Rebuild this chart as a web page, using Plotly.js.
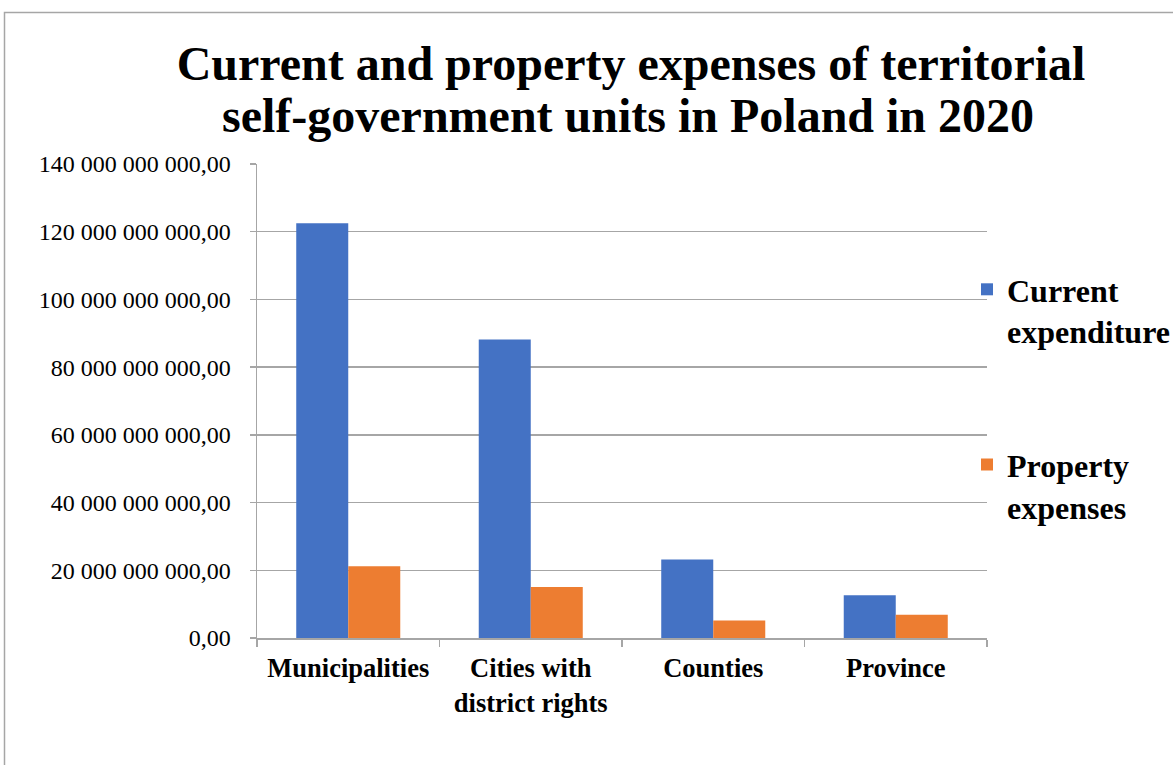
<!DOCTYPE html>
<html>
<head>
<meta charset="utf-8">
<script src="https://cdn.plot.ly/plotly-3.0.1.min.js"></script>
<style>html,body{margin:0;padding:0;background:#fff;}#chart{width:1173px;height:765px;}</style>
</head>
<body>
<div id="chart"></div>
<script>
const categories = ["Municipalities", "Cities with<br>district rights", "Counties", "Province"];
const currentExpenditure = [122500000000, 88200000000, 23200000000, 12600000000];
const propertyExpenses = [21200000000, 15100000000, 5200000000, 6900000000];
const seriesNames = ["Current<br>expenditure", "Property<br>expenses"];
const tickValues = [0, 20000000000, 40000000000, 60000000000, 80000000000, 100000000000, 120000000000, 140000000000];
const tickLabels = ["0,00", "20 000 000 000,00", "40 000 000 000,00", "60 000 000 000,00", "80 000 000 000,00", "100 000 000 000,00", "120 000 000 000,00", "140 000 000 000,00"];
const titleLines = ["Current and property expenses of territorial", "self-government units in Poland in 2020"];

const serif = "Liberation Serif, Times New Roman, serif";
const W = 1173, H = 765;
const L = 257, R = 987, T = 164, B = 638;
const px2x = p => (p - L) / (R - L);
const px2y = p => (B - p) / (B - T);
const titleFont = {family: serif, size: 48, weight: "bold", color: "#000000"};

const data = [
  {type: "bar", x: categories, y: currentExpenditure, name: seriesNames[0],
   marker: {color: "#4472C4"}, legendgroup: "a", hoverinfo: "y"},
  {type: "bar", x: categories, y: propertyExpenses, name: seriesNames[1],
   marker: {color: "#ED7D31"}, legendgroup: "b", hoverinfo: "y"}
];

const layout = {
  width: W, height: H,
  margin: {l: L, r: W - R, t: T, b: H - B, pad: 0, autoexpand: false},
  paper_bgcolor: "#ffffff", plot_bgcolor: "#ffffff",
  font: {family: serif, color: "#000000"},
  title: {
    text: titleLines[0],
    font: titleFont,
    xref: "container", x: 631 / W, xanchor: "center",
    yref: "container", y: 1 - 63 / H, yanchor: "middle",
    automargin: false
  },
  annotations: [{
    text: titleLines[1], font: titleFont, showarrow: false,
    xref: "paper", x: px2x(628), xanchor: "center",
    yref: "paper", y: px2y(116), yanchor: "middle"
  }],
  barmode: "group",
  bargap: 0.43,
  bargroupgap: 0,
  xaxis: {
    type: "category",
    tickson: "boundaries",
    ticks: "outside", ticklen: 7, tickcolor: "#a6a6a6", tickwidth: 1.5,
    showline: true, linecolor: "#a6a6a6", linewidth: 1.5,
    showgrid: false,
    tickfont: {family: serif, size: 26.5, weight: "bold", color: "#000000"},
    ticklabelstandoff: 6,
    automargin: false,
    fixedrange: true
  },
  yaxis: {
    range: [0, 140000000000],
    tickmode: "array", tickvals: tickValues, ticktext: tickLabels,
    ticks: "outside", ticklen: 6, tickcolor: "#a6a6a6", tickwidth: 1.5,
    showline: true, linecolor: "#a6a6a6", linewidth: 1.5,
    showgrid: true, gridcolor: "#a6a6a6", gridwidth: 1.5,
    zeroline: false,
    tickfont: {family: serif, size: 24, color: "#000000"},
    ticklabelstandoff: 14,
    automargin: false,
    fixedrange: true
  },
  legend: {
    x: px2x(967), xanchor: "left",
    y: px2y(262), yanchor: "top",
    traceorder: "grouped",
    tracegroupgap: 89,
    valign: "top",
    itemwidth: 30,
    font: {family: serif, size: 32, weight: "bold", color: "#000000"},
    bgcolor: "rgba(0,0,0,0)"
  },
  shapes: [{
    type: "rect", xref: "paper", yref: "paper",
    x0: px2x(4.5), x1: px2x(1200), y0: px2y(800), y1: px2y(12.5),
    line: {color: "#a6a6a6", width: 1.5}, fillcolor: "rgba(0,0,0,0)", layer: "below"
  }],
  showlegend: true
};

Plotly.newPlot("chart", data, layout, {displayModeBar: false, staticPlot: true});
</script>
</body>
</html>
